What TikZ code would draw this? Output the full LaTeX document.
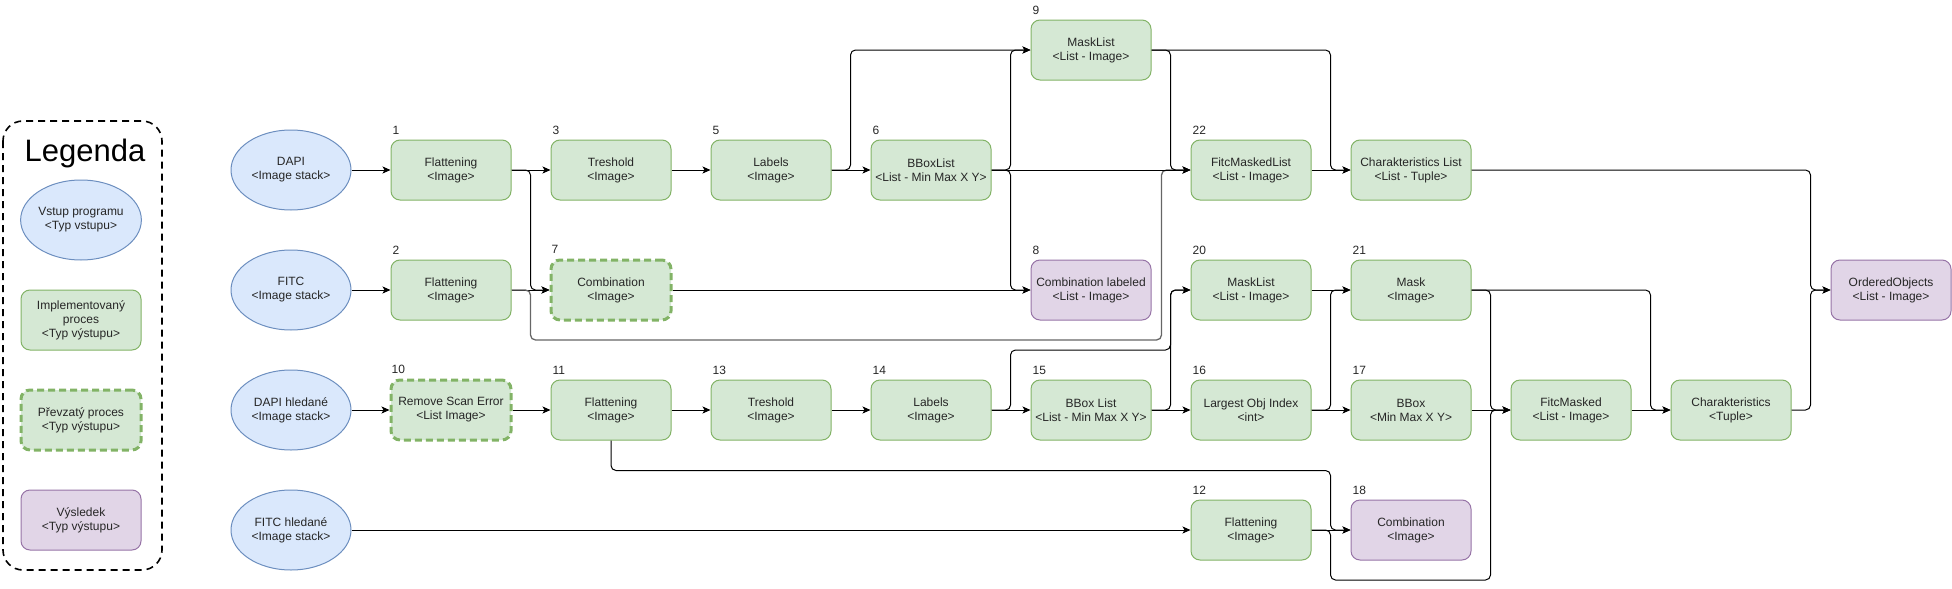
\documentclass[tikz,border=0pt]{standalone}
\usepackage{fontspec}
\setmainfont{Liberation Sans}
\usetikzlibrary{shapes.geometric,arrows.meta,calc}

\definecolor{inblue}{HTML}{DAE8FC}
\definecolor{inbluedraw}{HTML}{6C8EBF}
\definecolor{procgreen}{HTML}{D5E8D4}
\definecolor{procgreendraw}{HTML}{82B366}
\definecolor{resviolet}{HTML}{E1D5E7}
\definecolor{resvioletdraw}{HTML}{9673A6}

\tikzset{
  txt/.style={font=\fontsize{12}{14}\selectfont, text=black!85, align=center, inner sep=0pt},
  vstup/.style={txt, ellipse, draw=inbluedraw, fill=inblue, line width=1pt,
    minimum width=120pt, minimum height=80pt},
  proces/.style={txt, rectangle, rounded corners=9pt, draw=procgreendraw, fill=procgreen,
    line width=1pt, minimum width=120pt, minimum height=60pt},
  prevzaty/.style={proces, line width=3pt, dash pattern=on 7pt off 4pt},
  vysledek/.style={proces, draw=resvioletdraw, fill=resviolet},
  num/.style={font=\fontsize{12}{14}\selectfont, text=black!85, anchor=south west,
    inner sep=0pt, xshift=2pt, yshift=5pt},
  link/.style={draw=black, line width=1pt, rounded corners=5pt,
    -{Stealth[length=8pt,width=7pt,inset=2pt]}},
  linkgray/.style={link, draw=black!60, line width=1.3pt},
}

\begin{document}
\begin{tikzpicture}[x=1pt,y=-1pt]
\useasboundingbox (0,0) rectangle (1952,589);

% legenda
\draw[line width=1.6pt, dash pattern=on 7pt off 5pt, rounded corners=20pt] (3,121) rectangle (162,570);
\node[font=\fontsize{31}{36}\selectfont, anchor=base, inner sep=0pt] (legtitle) at (85,161) {Legenda};
\node[vstup] (legvstup) at (81,220) {Vstup programu\\<Typ vstupu>};
\node[proces] (legproces) at (81,320) {Implementovaný\\proces\\<Typ výstupu>};
\node[prevzaty] (legprevzaty) at (81,420) {Převzatý proces\\<Typ výstupu>};
\node[vysledek] (legvysledek) at (81,520) {Výsledek\\<Typ výstupu>};

% vstupy
\node[vstup] (dapi) at (291,170) {DAPI\\<Image stack>};
\node[vstup] (fitc) at (291,290) {FITC\\<Image stack>};
\node[vstup] (dapih) at (291,410) {DAPI hledané\\<Image stack>};
\node[vstup] (fitch) at (291,530) {FITC hledané\\<Image stack>};

% radek 0 a 1
\node[proces, label={[num]north west:9}] (mask9) at (1091,50) {MaskList\\<List - Image>};
\node[proces, label={[num]north west:1}] (flat1) at (451,170) {Flattening\\<Image>};
\node[proces, label={[num]north west:3}] (tresh3) at (611,170) {Treshold\\<Image>};
\node[proces, label={[num]north west:5}] (labels5) at (771,170) {Labels\\<Image>};
\node[proces, label={[num]north west:6}] (bbox6) at (931,170) {BBoxList\\<List - Min Max X Y>};
\node[proces, label={[num]north west:22}] (fitc22) at (1251,170) {FitcMaskedList\\<List - Image>};
\node[proces] (charlist) at (1411,170) {Charakteristics List\\<List - Tuple>};

% radek 2
\node[proces, label={[num]north west:2}] (flat2) at (451,290) {Flattening\\<Image>};
\node[prevzaty, label={[num]north west:7}] (comb7) at (611,290) {Combination\\<Image>};
\node[vysledek, label={[num]north west:8}] (comb8) at (1091,290) {Combination labeled\\<List - Image>};
\node[proces, label={[num]north west:20}] (mask20) at (1251,290) {MaskList\\<List - Image>};
\node[proces, label={[num]north west:21}] (mask21) at (1411,290) {Mask\\<Image>};
\node[vysledek] (ordered) at (1891,290) {OrderedObjects\\<List - Image>};

% radek 3
\node[prevzaty, label={[num]north west:10}] (rse10) at (451,410) {Remove Scan Error\\<List Image>};
\node[proces, label={[num]north west:11}] (flat11) at (611,410) {Flattening\\<Image>};
\node[proces, label={[num]north west:13}] (tresh13) at (771,410) {Treshold\\<Image>};
\node[proces, label={[num]north west:14}] (labels14) at (931,410) {Labels\\<Image>};
\node[proces, label={[num]north west:15}] (bbox15) at (1091,410) {BBox List\\<List - Min Max X Y>};
\node[proces, label={[num]north west:16}] (lidx16) at (1251,410) {Largest Obj Index\\<int>};
\node[proces, label={[num]north west:17}] (bbox17) at (1411,410) {BBox\\<Min Max X Y>};
\node[proces] (fitcm) at (1571,410) {FitcMasked\\<List - Image>};
\node[proces] (charak) at (1731,410) {Charakteristics\\<Tuple>};

% radek 4
\node[proces, label={[num]north west:12}] (flat12) at (1251,530) {Flattening\\<Image>};
\node[vysledek, label={[num]north west:18}] (comb18) at (1411,530) {Combination\\<Image>};

% spoje
\draw[link] (dapi.east) -- (flat1.west);
\draw[link] (fitc.east) -- (flat2.west);
\draw[link] (dapih.east) -- (rse10.west);
\draw[link] (fitch.east) -- (flat12.west);

\draw[link] (flat1.east) -- (tresh3.west);
\draw[link] (flat1.east) -- ++(19,0) |- (comb7.west);
\draw[link] (flat2.east) -- (comb7.west);
\draw[linkgray] (flat2.east) -- ++(19,0) -- ++(0,50) -| ($(fitc22.west)+(-29,0)$) -- (fitc22.west);
\draw[link] (tresh3.east) -- (labels5.west);
\draw[link] (labels5.east) -- (bbox6.west);
\draw[link] (labels5.east) -- ++(19,0) |- (mask9.west);
\draw[link] (bbox6.east) -- ++(19,0) |- (mask9.west);
\draw[link] (bbox6.east) -- (fitc22.west);
\draw[link] (bbox6.east) -- ++(19,0) |- (comb8.west);
\draw[link] (comb7.east) -- (comb8.west);
\draw[link] (mask9.east) -| ($(fitc22.west)+(-20,0)$) -- (fitc22.west);
\draw[link] (mask9.east) -| ($(charlist.west)+(-20,0)$) -- (charlist.west);
\draw[link] (fitc22.east) -- (charlist.west);
\draw[link] (charlist.east) -| ($(ordered.west)+(-20,0)$) -- (ordered.west);

\draw[link] (rse10.east) -- (flat11.west);
\draw[link] (flat11.east) -- (tresh13.west);
\draw[link] (tresh13.east) -- (labels14.west);
\draw[link] (labels14.east) -- (bbox15.west);
\draw[link] (labels14.east) -- ++(19,0) -- ++(0,-60) -| ($(mask20.west)+(-20,0)$) -- (mask20.west);
\draw[link] (bbox15.east) -| ($(mask20.west)+(-20,0)$) -- (mask20.west);
\draw[link] (bbox15.east) -- (lidx16.west);
\draw[link] (lidx16.east) -| ($(mask21.west)+(-20,0)$) -- (mask21.west);
\draw[link] (lidx16.east) -- (bbox17.west);
\draw[link] (mask20.east) -- (mask21.west);
\draw[link] (mask21.east) -| ($(fitcm.west)+(-20,0)$) -- (fitcm.west);
\draw[link] (mask21.east) -| ($(charak.west)+(-20,0)$) -- (charak.west);
\draw[link] (bbox17.east) -- (fitcm.west);
\draw[link] (fitcm.east) -- (charak.west);
\draw[link] (charak.east) -| ($(ordered.west)+(-20,0)$) -- (ordered.west);

\draw[link] (flat11.south) -- ++(0,30) -| ($(comb18.west)+(-20,0)$) -- (comb18.west);
\draw[link] (flat12.east) -- (comb18.west);
\draw[link] (flat12.east) -- ++(19,0) -- ++(0,50) -| ($(fitcm.west)+(-20,0)$) -- (fitcm.west);
\end{tikzpicture}
\end{document}
